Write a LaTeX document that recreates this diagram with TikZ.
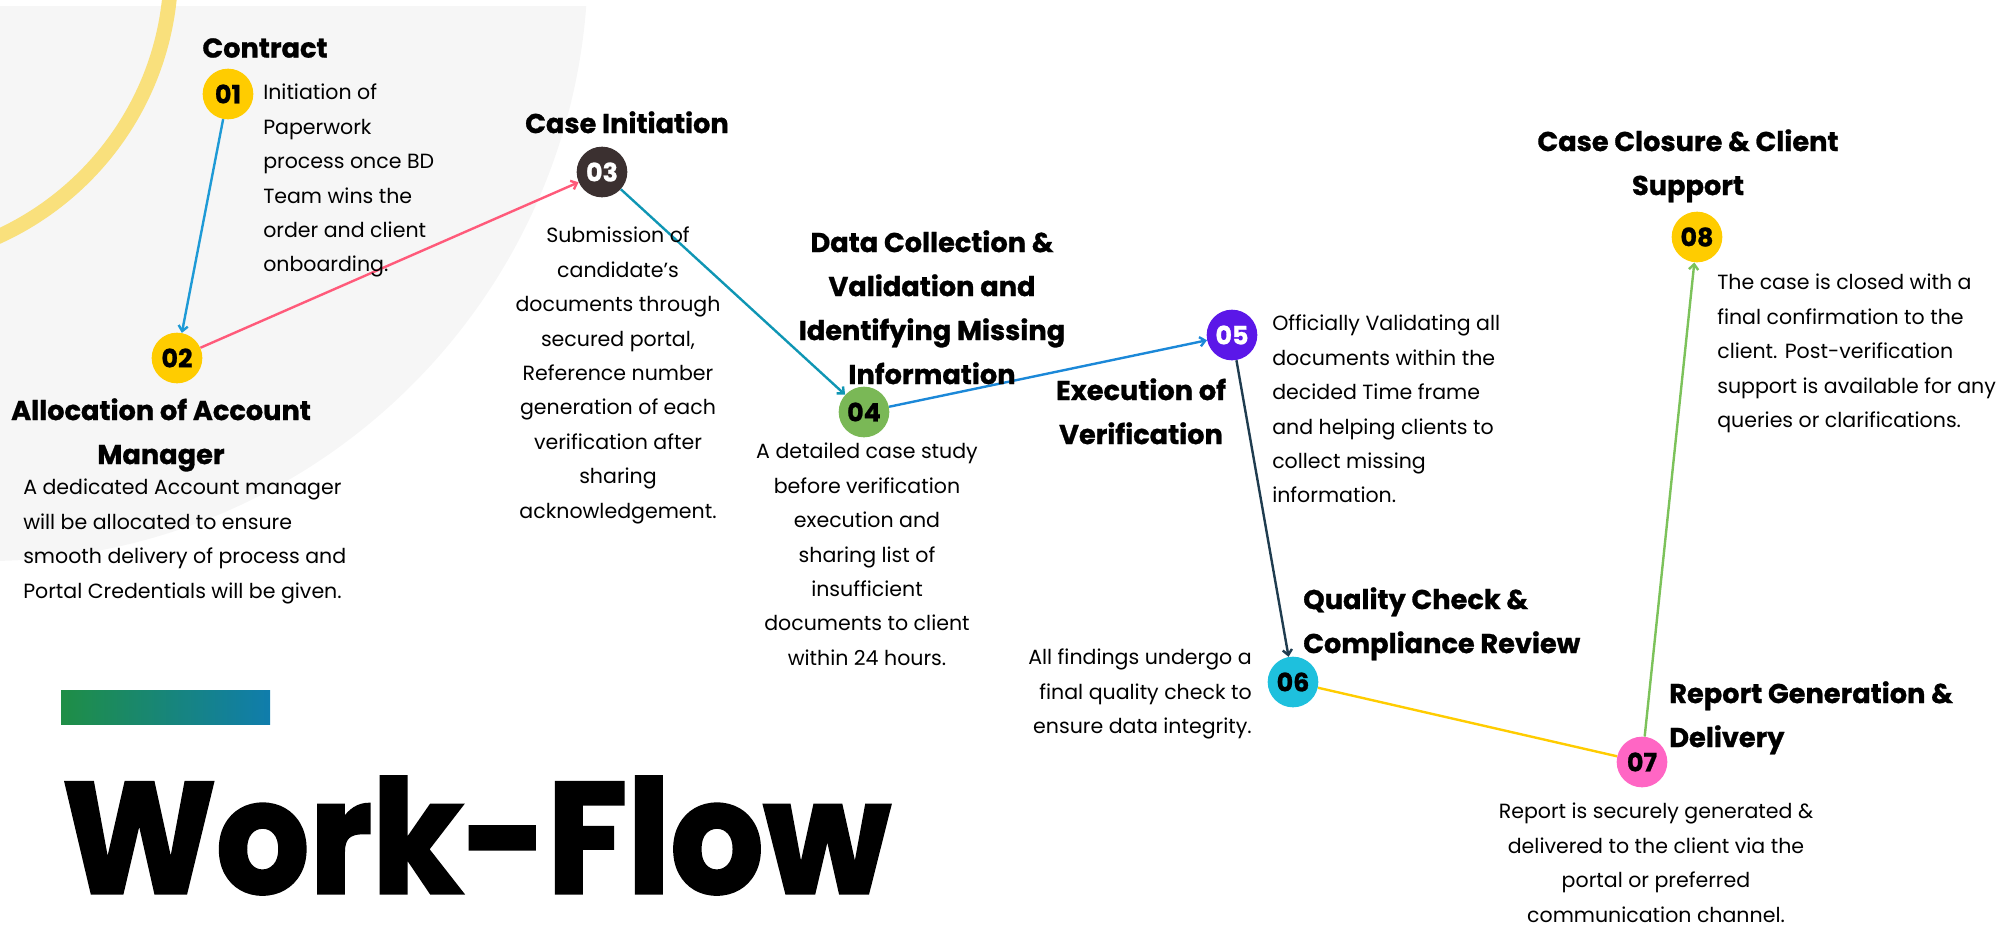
\documentclass[tikz,border=0pt]{standalone}
\usepackage{fontspec}
\setmainfont{Poppins}
\usepackage{tikz}
\usetikzlibrary{positioning, arrows.meta}

\definecolor{bggray}{HTML}{F6F6F6}
\definecolor{arcyellow}{HTML}{F9E07C}
\definecolor{gold}{HTML}{FFCC00}
\definecolor{darkbrown}{HTML}{3B3030}
\definecolor{leafgreen}{HTML}{7AB856}
\definecolor{violet}{HTML}{5B17E8}
\definecolor{cyan}{HTML}{1EC0DD}
\definecolor{pink}{HTML}{FF66C4}
\definecolor{lineblue}{HTML}{1E9AD6}
\definecolor{linered}{HTML}{FF5A7A}
\definecolor{lineteal}{HTML}{0F96B4}
\definecolor{lineazure}{HTML}{1B88D8}
\definecolor{linenavy}{HTML}{1F3C4F}
\definecolor{linegreen}{HTML}{7CC25A}
\definecolor{barleft}{HTML}{1F8E46}
\definecolor{barright}{HTML}{107DAC}

\begin{document}
\begin{tikzpicture}[x=0.75pt, y=-0.75pt,
  step node/.style={circle, minimum size=38pt, inner sep=0pt,
    font={\fontsize{19}{19}\selectfont\bfseries\addfontfeatures{FakeBold=1}}},
  head/.style={font={\fontsize{20.4}{33}\selectfont\bfseries\addfontfeatures{FakeBold=1}},
    align=center, inner sep=0pt},
  body/.style={font={\fontsize{15.4}{25.8}\selectfont}, align=center, inner sep=0pt},
  flow/.style={line width=1.8pt, -{Straight Barb[length=4pt,width=7pt]}}]

\useasboundingbox (0,0) rectangle (1999,926);
\clip (0,0) rectangle (1999,926);

% backdrop
\begin{scope}
\clip (0,6) rectangle (1999,926);
\fill[bggray] (-13,-40) circle (601);
\end{scope}
\draw[arcyellow, line width=11pt] (-124,-32) circle (295);

% steps
\node[step node, fill=gold] (s1) at (228,94) {01};
\node[step node, fill=gold] (s2) at (177,358) {02};
\node[step node, fill=darkbrown, text=white] (s3) at (602,172) {03};
\node[step node, fill=leafgreen] (s4) at (864,412) {04};
\node[step node, fill=violet, text=white] (s5) at (1232,335) {05};
\node[step node, fill=cyan] (s6) at (1293,682) {06};
\node[step node, fill=pink] (s7) at (1642,762) {07};
\node[step node, fill=gold] (s8) at (1697,237) {08};

\draw[flow, lineblue] (s1) -- (s2);
\draw[flow, linered] (s2) -- (s3);
\draw[flow, lineteal] (s3) -- (s4);
\draw[flow, lineazure] (s4) -- (s5);
\draw[flow, linenavy] (s5) -- (s6);
\draw[line width=1.8pt, gold] (s6) -- (s7);
\draw[flow, linegreen] (s7) -- (s8);

% headings
\node[head, anchor=north] (h1) at (265,38) {Contract};
\node[head, anchor=north] (h2) at (161,398) {Allocation of Account\\Manager};
\node[head, anchor=north] (h3) at (627,111) {Case Initiation};
\node[head, anchor=north] (h4) at (932,230) {Data Collection \&\\Validation and\\Identifying Missing\\Information};
\node[head, anchor=north] (h5) at (1141,378) {Execution of\\Verification};
\node[head, anchor=north west, align=left] (h6) at (1303,587) {Quality Check \&\\Compliance Review};
\node[head, anchor=north west, align=left] (h7) at (1669,681) {Report Generation \&\\Delivery};
\node[head, anchor=north] (h8) at (1688,129) {Case Closure \& Client\\Support};

% descriptions
\node[body, anchor=north west, align=left] (b1) at (263,84) {Initiation of\\Paperwork\\process once BD\\Team wins the\\order and client\\onboarding.};
\node[body, anchor=north west, align=left] (b2) at (23,479) {A dedicated Account manager\\will be allocated to ensure\\smooth delivery of process and\\Portal Credentials will be given.};
\node[body, anchor=north] (b3) at (618,227) {Submission of\\candidate’s\\documents through\\secured portal,\\Reference number\\generation of each\\verification after\\sharing\\acknowledgement.};
\node[body, anchor=north] (b4) at (867,443) {A detailed case study\\before verification\\execution and\\sharing list of\\insufficient\\documents to client\\within 24 hours.};
\node[body, anchor=north west, align=left] (b5) at (1272,315) {Officially Validating all\\documents within the\\decided Time frame\\and helping clients to\\collect missing\\information.};
\node[body, anchor=north east, align=right] (b6) at (1252,649) {All findings undergo a\\final quality check to\\ensure data integrity.};
\node[body, anchor=north] (b7) at (1656,803) {Report is securely generated \&\\delivered to the client via the\\portal or preferred\\communication channel.};
\node[body, anchor=north west, align=left] (b8) at (1717,274) {The case is closed with a\\final confirmation to the\\client. Post-verification\\support is available for any\\queries or clarifications.};

% title
\shade[left color=barleft, right color=barright] (61,690) rectangle (270,724);
\node[anchor=base west, inner sep=0pt, font={\fontsize{118}{118}\selectfont\bfseries\addfontfeatures{FakeBold=2}}] (title) at (62,893) {\scalebox{0.93}[1]{Work-Flow}};

\end{tikzpicture}
\end{document}
